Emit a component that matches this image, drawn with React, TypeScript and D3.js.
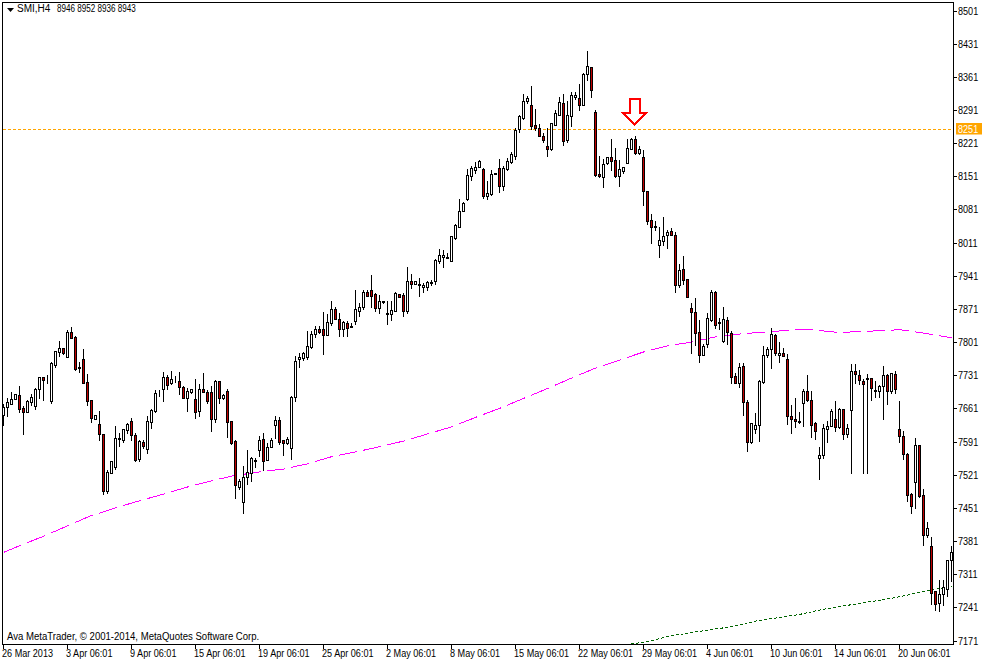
import React from "react";
import * as d3 from "d3";

const opens = [
  7648,7663,7671,7680,7689,7662,7654,7675,7665,7703,
  7727,7720,7677,7753,7781,7788,7770,7822,7812,7746,
  7765,7716,7678,7639,7629,7607,7487,7525,7538,7597,
  7595,7616,7634,7604,7555,7590,7576,7633,7656,7693,
  7703,7727,7714,7722,7718,7707,7682,7696,7680,7656,
  7703,7695,7695,7639,7718,7684,7697,7634,7592,7496,
  7463,7517,7524,7551,7574,7596,7553,7580,7627,7636,
  7594,7588,7578,7686,7765,7767,7770,7791,7819,7828,
  7828,7817,7842,7870,7849,7829,7841,7834,7846,7867,
  7876,7906,7912,7902,7874,7886,7860,7861,7866,7902,
  7900,7867,7931,7924,7921,7918,7918,7926,7929,7973,
  7981,7981,7973,8021,8045,8077,8104,8152,8165,8171,
  8166,8110,8114,8157,8168,8131,8167,8182,8193,8250,
  8274,8311,8301,8259,8254,8235,8214,8209,8260,8281,
  8305,8228,8279,8318,8316,8302,8366,8381,8287,8155,
  8150,8179,8191,8185,8152,8163,8180,8209,8229,8201,
  8191,8119,8058,8045,8007,8015,8026,8035,8026,7922,
  7955,7934,7872,7864,7822,7774,7798,7848,7906,7841,
  7804,7847,7821,7729,7714,7750,7674,7591,7618,7625,
  7717,7773,7786,7817,7773,7777,7765,7644,7639,7633,
  7673,7697,7678,7630,7557,7562,7618,7624,7638,7622,
  7659,7606,7657,7741,7731,7718,7722,7725,7698,7698,
  7709,7731,7698,7733,7617,7602,7564,7480,7506,7583,
  7478,7394,7370,7275,7251,7269,7279,7340,
];
const highs = [
  7670,7682,7695,7691,7708,7665,7679,7691,7705,7728,
  7727,7731,7758,7783,7803,7789,7827,7832,7814,7760,
  7786,7733,7679,7648,7655,7608,7531,7551,7623,7609,
  7617,7631,7640,7610,7594,7594,7644,7659,7700,7700,
  7737,7732,7739,7730,7738,7708,7705,7701,7722,7713,
  7735,7700,7709,7721,7718,7691,7703,7634,7594,7513,
  7539,7573,7559,7556,7603,7610,7588,7599,7645,7642,
  7594,7600,7687,7772,7777,7780,7825,7825,7834,7836,
  7864,7860,7887,7875,7862,7845,7845,7842,7911,7883,
  7911,7912,7943,7904,7900,7887,7888,7888,7906,7903,
  7904,7959,7945,7931,7936,7926,7931,7932,7976,7997,
  7995,7988,8025,8050,8103,8096,8166,8173,8181,8185,
  8168,8141,8164,8159,8187,8173,8189,8202,8253,8280,
  8324,8321,8342,8293,8261,8242,8253,8263,8290,8319,
  8325,8309,8328,8328,8346,8370,8416,8382,8291,8194,
  8187,8192,8230,8211,8185,8171,8229,8232,8236,8214,
  8207,8120,8071,8057,8043,8065,8038,8042,8033,7966,
  7983,7934,7883,7894,7848,7797,7862,7912,7908,7852,
  7875,7853,7824,7735,7756,7756,7679,7630,7652,7720,
  7793,7791,7831,7819,7801,7789,7776,7668,7682,7653,
  7703,7732,7698,7632,7580,7628,7634,7660,7677,7662,
  7660,7628,7755,7755,7742,7722,7734,7725,7719,7710,
  7750,7733,7736,7741,7677,7613,7566,7482,7598,7584,
  7491,7421,7390,7276,7299,7299,7341,7371,
];
const lows = [
  7626,7645,7671,7680,7654,7607,7654,7668,7660,7684,
  7679,7714,7672,7749,7772,7775,7770,7810,7742,7738,
  7715,7668,7633,7639,7594,7480,7483,7525,7534,7582,
  7590,7610,7594,7551,7551,7577,7566,7620,7653,7687,
  7677,7701,7713,7717,7691,7682,7656,7693,7641,7645,
  7696,7673,7614,7633,7672,7680,7601,7586,7472,7490,
  7441,7501,7508,7538,7561,7531,7553,7580,7599,7586,
  7563,7586,7555,7677,7749,7763,7766,7789,7812,7821,
  7776,7817,7838,7849,7814,7814,7814,7832,7839,7856,
  7871,7899,7875,7867,7862,7883,7840,7848,7866,7897,
  7857,7862,7915,7924,7898,7907,7911,7922,7924,7969,
  7960,7979,7972,8019,8045,8077,8100,8143,8159,8171,
  8105,8104,8112,8155,8118,8122,8164,8180,8187,8245,
  8272,8305,8250,8249,8235,8224,8194,8207,8259,8281,
  8217,8224,8257,8314,8291,8302,8354,8319,8152,8149,
  8129,8177,8164,8150,8130,8157,8180,8208,8198,8197,
  8090,8050,8010,8038,7981,8006,8000,8026,7907,7918,
  7924,7897,7779,7795,7758,7774,7791,7846,7830,7829,
  7801,7798,7715,7715,7707,7647,7572,7589,7610,7593,
  7715,7770,7746,7774,7758,7772,7628,7610,7621,7630,
  7623,7677,7601,7597,7513,7556,7591,7624,7613,7620,
  7597,7601,7525,7715,7713,7525,7525,7679,7686,7686,
  7639,7671,7694,7694,7591,7555,7466,7441,7451,7475,
  7373,7389,7248,7236,7233,7247,7265,7297,
];
const closes = [
  7663,7674,7681,7691,7660,7654,7676,7686,7703,7727,
  7720,7721,7756,7782,7788,7777,7822,7810,7745,7748,
  7715,7677,7641,7646,7606,7487,7526,7550,7598,7599,
  7617,7628,7604,7552,7592,7582,7634,7658,7693,7694,
  7727,7711,7723,7724,7707,7682,7697,7701,7654,7703,
  7696,7677,7639,7718,7682,7689,7633,7589,7499,7507,
  7517,7527,7556,7553,7594,7551,7579,7594,7636,7591,
  7587,7596,7686,7762,7769,7777,7792,7819,7829,7823,
  7817,7843,7870,7850,7829,7843,7831,7832,7870,7875,
  7906,7899,7899,7874,7887,7887,7862,7868,7904,7897,
  7867,7931,7924,7929,7923,7921,7927,7928,7974,7984,
  7984,7979,8024,8048,8077,8094,8153,8168,8171,8183,
  8110,8115,8155,8155,8131,8168,8183,8197,8248,8278,
  8309,8316,8257,8253,8235,8228,8209,8263,8284,8307,
  8226,8280,8322,8322,8302,8367,8384,8334,8154,8152,
  8178,8191,8184,8152,8166,8170,8210,8229,8201,8208,
  8119,8057,8043,8046,8016,8024,8033,8026,7922,7953,
  7933,7897,7865,7821,7774,7792,7851,7906,7838,7843,
  7849,7822,7728,7715,7748,7674,7591,7630,7625,7718,
  7773,7786,7818,7779,7777,7772,7644,7639,7634,7634,
  7697,7678,7627,7614,7562,7619,7623,7655,7622,7659,
  7606,7619,7741,7734,7720,7712,7725,7705,7699,7709,
  7731,7698,7735,7701,7603,7564,7479,7456,7583,7477,
  7394,7408,7272,7249,7269,7285,7340,7357,
];

const slowMaBars = [0,4,10,16,22,24,28,34,40,46,52,57,64,70,76,82,88,94,100,106,112,118,124,130,136,142,148,154,160,166,172,178,184,190,198,202,208,211,219,224,226,230,237];
const slowMaValues = [7357,7371,7391,7413,7435,7440,7451,7466,7480,7495,7508,7518,7527,7533,7544,7559,7569,7580,7592,7607,7622,7642,7661,7682,7703,7725,7746,7763,7780,7793,7801,7812,7818,7822,7827,7827,7822,7822,7825,7827,7825,7820,7810];
const longMaBars = [157,160,167,176,182,188,199,205,213,222,230,237];
const longMaValues = [7164,7167,7181,7193,7200,7212,7226,7237,7248,7260,7274,7286];

const priceTicks = [8501,8431,8361,8291,8221,8151,8081,8011,7941,7871,7801,7731,7661,7591,7521,7451,7381,7311,7241,7171];
const timeBars = [0,16,32,48,64,80,96,112,128,144,160,176,192,208,224];
const timeLabels = ["26 Mar 2013","3 Apr 06:01","9 Apr 06:01","15 Apr 06:01","19 Apr 06:01","25 Apr 06:01","2 May 06:01","8 May 06:01","15 May 06:01","22 May 06:01","29 May 06:01","4 Jun 06:01","10 Jun 06:01","14 Jun 06:01","20 Jun 06:01"];
const currentPrice = 8251;
const arrowBar = 158;
const arrowPrice = 8250;

const W = 993, H = 662;
const left = 2.5, right = 953.5, top = 2.5, bottom = 644.5;
const x = d3.scaleLinear().domain([0, 237]).range([3.5, 951.5]);
const y = d3.scaleLinear().domain([8501, 7171]).range([10.5, 640.5]);
const py = (p: number) => Math.round(y(p)) + 0.5;
const FONT = "'Liberation Sans', Arial, sans-serif";

const lineGen = d3.line<[number, number]>().x((d) => x(d[0])).y((d) => y(d[1]));
const slowPath = lineGen(slowMaBars.map((b, i) => [b, slowMaValues[i]] as [number, number])) || "";
const longPath = lineGen(longMaBars.map((b, i) => [b, longMaValues[i]] as [number, number])) || "";
const dashStarts = d3.range(3, right, 24);

function Label(props: { x: number; y: number; sx: number; fill?: string; children: React.ReactNode }) {
  return (
    <text transform={`translate(${props.x},${props.y}) scale(${props.sx},1)`} fill={props.fill || "#000"}>
      {props.children}
    </text>
  );
}

export default function App() {
  const ax = x(arrowBar) - 1;
  const ay = y(arrowPrice) - 5;
  const arrow = `M${ax - 5},${ay - 25}H${ax + 5}V${ay - 11}H${ax + 11}L${ax},${ay}L${ax - 11},${ay - 11}H${ax - 5}Z`;
  return (
    <svg width={W} height={H} viewBox={`0 0 ${W} ${H}`} style={{ position: "absolute", left: 0, top: 0, background: "#fff", display: "block" }}>
      <defs>
        <clipPath id="plot"><rect x={left} y={top} width={right - left} height={bottom - top} /></clipPath>
        <clipPath id="dashes">
          {dashStarts.map((s) => <rect key={s} x={s} y={top} width={18} height={bottom - top} />)}
        </clipPath>
      </defs>
      <rect x={0} y={0} width={W} height={H} fill="#fff" />
      <g clipPath="url(#plot)" shapeRendering="crispEdges">
        <line x1={left} x2={right} y1={py(currentPrice)} y2={py(currentPrice)} stroke="#ffa500" strokeDasharray="3 2" />
        <g clipPath="url(#dashes)">
          <path d={slowPath} fill="none" stroke="#ff00ff" strokeWidth={1} />
        </g>
        <path d={longPath} fill="none" stroke="#006400" strokeWidth={1} strokeDasharray="3 2" />
        {opens.map((o, i) => {
          const c = closes[i];
          const cx = x(i);
          const t = py(Math.max(o, c));
          const b = py(Math.min(o, c));
          return (
            <g key={i}>
              <line x1={cx} x2={cx} y1={py(highs[i]) - 0.5} y2={py(lows[i]) + 0.5} stroke="#000" />
              <rect x={cx - 1} y={t} width={2} height={Math.max(b - t, 0)} fill={c < o ? "#c00000" : "#fff"} stroke="#000" />
            </g>
          );
        })}
      </g>
      <path d={arrow} fill="#fff" stroke="#ff0000" strokeWidth={2} shapeRendering="crispEdges" />
      <rect x={left} y={top} width={right - left} height={bottom - top} fill="none" stroke="#000" shapeRendering="crispEdges" />
      <g fontFamily={FONT} fontSize={10} fill="#000">
        <path d="M7,8H14L10.5,12Z" fill="#000" />
        <Label x={17} y={11.5} sx={1}>SMI,H4</Label>
        <Label x={57} y={11.5} sx={0.81}>8946 8952 8936 8943</Label>
        <Label x={7} y={640} sx={0.958}>Ava MetaTrader, © 2001-2014, MetaQuotes Software Corp.</Label>
        {priceTicks.map((p) => (
          <g key={p}>
            <line x1={right} x2={right + 3} y1={py(p)} y2={py(p)} stroke="#000" shapeRendering="crispEdges" />
            <Label x={958} y={py(p) + 3.5} sx={0.91}>{p}</Label>
          </g>
        ))}
        <rect x={956} y={py(currentPrice) - 6.5} width={26} height={11.5} fill="#ffa500" />
        <Label x={958} y={py(currentPrice) + 3.5} sx={0.91} fill="#fff">{currentPrice}</Label>
        {timeBars.map((b, i) => (
          <g key={b}>
            <line x1={x(b)} x2={x(b)} y1={bottom} y2={bottom + 4} stroke="#000" shapeRendering="crispEdges" />
            <Label x={x(b) - 1.5} y={657} sx={0.91}>{timeLabels[i]}</Label>
          </g>
        ))}
      </g>
    </svg>
  );
}
